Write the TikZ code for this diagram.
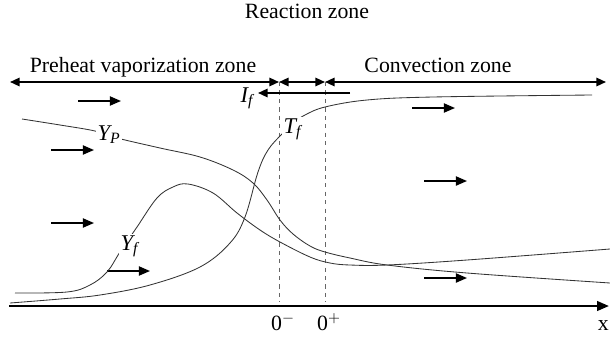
\documentclass[tikz,border=0pt]{standalone}
\usepackage{fontspec}
\setmainfont{Liberation Serif}
\usetikzlibrary{arrows.meta}
\tikzset{
  zonearr/.style={{Triangle[length=2.4mm,width=2.1mm]}-{Triangle[length=2.4mm,width=2.1mm]}, line width=1.3pt},
  flowarr/.style={-{Triangle[length=2.8mm,width=2.3mm]}, line width=1.2pt},
  axisarr/.style={-{Triangle[length=3mm,width=2.4mm]}, line width=1.7pt},
  fluxarr/.style={-{Triangle[length=2.4mm,width=2.1mm]}, line width=1.3pt},
  prof/.style={black!80, line width=0.6pt},
  bound/.style={dashed, black!60, line width=0.5pt},
  zonelbl/.style={font=\fontsize{15.5}{18}\selectfont, inner sep=0pt, anchor=base},
  symlbl/.style={font=\fontsize{16}{18}\selectfont\itshape, inner sep=1pt, anchor=base west},
}
\newcommand{\symsub}[2]{#1\textsubscript{#2}}

\begin{document}
\begin{tikzpicture}[x=0.025cm, y=-0.025cm]
    \useasboundingbox (0,0) rectangle (610,336);
    % --- zone markers
    \coordinate (L) at (10,82);
    \coordinate (Zm) at (279,82);
    \coordinate (Zp) at (325,82);
    \coordinate (R) at (606,82);
    \coordinate (o) at (9,306);
    \coordinate (xend) at (609,306);
    \node[zonelbl] (reac) at (307,18) {Reaction zone};
    \node[zonelbl] (preheat) at (143,72) {Preheat vaporization zone};
    \node[zonelbl] (conv) at (438,72) {Convection zone};
    \draw[zonearr] (L) -- (Zm);
    \draw[zonearr] (Zm) -- (Zp);
    \draw[zonearr] (Zp) -- (R);
    \draw[bound] (Zm) -- ([yshift=0.1cm]Zm |- o);
    \draw[bound] (Zp) -- ([yshift=0.1cm]Zp |- o);
    % --- axis
    \draw[axisarr] (o) -- (xend);
    \node[zonelbl] (zmlbl) at (283,330) {0\textsuperscript{$-$}};
    \node[zonelbl] (zplbl) at (329,330) {0\textsuperscript{$+$}};
    \node[zonelbl, anchor=base east] (xlbl) at (609,330) {x};
    % --- heat flux back to the spray
    \coordinate (fs) at (350,93);
    \coordinate (fe) at (258,93);
    \draw[fluxarr] (fs) -- (fe);
    \node[symlbl] (lblI) at (239,102) {\symsub{I}{f}};
    % --- flow direction
    \foreach \x/\y in {78/101, 51/150, 51/223, 107/271, 412/108, 424/181, 424/278}{
      \draw[flowarr] (\x,\y) -- ++(43,0);
    }
    % --- profiles
    \draw[prof] plot[smooth, tension=0.6] coordinates {(10,303) (60,299) (100,295) (150,285)
      (200,267) (230,243) (245,217) (258,172) (268,150) (282,134) (295,122) (305,115)
      (325,107) (367,100) (433,97) (592,95)};
    \draw[prof] plot[smooth, tension=0.6] coordinates {(15,293) (67,292) (90,285) (107,272)
      (120,252) (137,227) (157,198) (173,187) (188,184) (213,193) (237,213) (260,230)
      (280,242) (310,257) (330,263) (350,265) (387,265) (467,260) (610,249)};
    \draw[prof] plot[smooth, tension=0.6] coordinates {(22,119) (60,125) (95,131) (117,138)
      (160,148) (200,157) (233,170) (253,183) (267,200) (280,220) (293,234) (310,246)
      (325,252) (350,258) (387,265) (467,273) (610,283)};
    \node[symlbl, fill=white] (lblT) at (282,133) {\symsub{T}{f}};
    \node[symlbl, fill=white] (lblYp) at (96,140) {\symsub{Y}{P}};
    \node[symlbl, fill=white] (lblYf) at (119,250) {\symsub{Y}{f}};
\end{tikzpicture}
\end{document}
